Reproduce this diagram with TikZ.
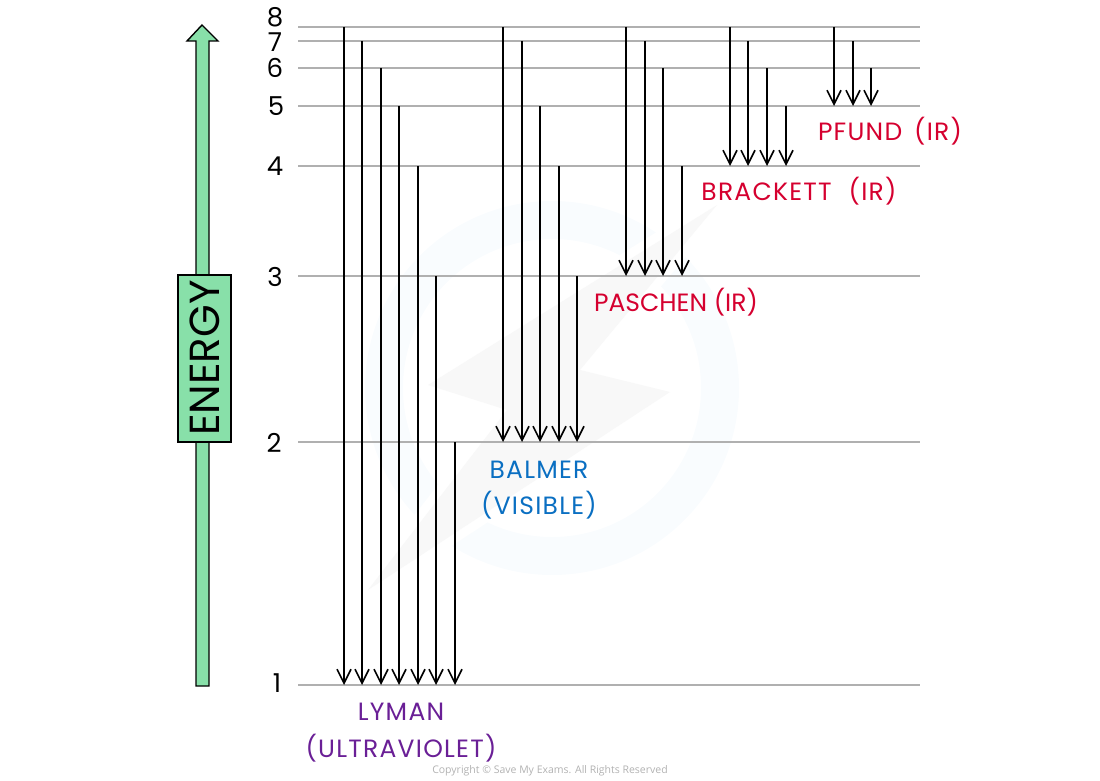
\documentclass[tikz,border=0pt]{standalone}
\usepackage{fontspec}
\setmainfont{Poppins}
\newfontfamily\copyfont{Open Sans}
\usetikzlibrary{arrows.meta}
\definecolor{mint}{HTML}{88E0A9}
\definecolor{levelgrey}{HTML}{B0B0B0}
\definecolor{lymancol}{HTML}{6A1F96}
\definecolor{balmercol}{HTML}{0A6FC2}
\definecolor{ircol}{HTML}{D5002F}
\definecolor{wmblue}{HTML}{F9FCFE}
\definecolor{wmgrey}{HTML}{F8F8F8}
\tikzset{
  x=1pt,y=-1pt,
  level/.style={draw=levelgrey,line width=1.3pt},
  trans/.style={draw=black,line width=1.4pt,-{Straight Barb[length=14pt,width=14pt,line width=1.6pt]}},
  num/.style={font=\fontsize{26}{26}\selectfont,inner sep=0pt,anchor=center},
  serieslabel/.style={font=\fontsize{25}{25}\selectfont\addfontfeatures{LetterSpace=5},inner sep=0pt,anchor=center},
  tightlabel/.style={font=\fontsize{25}{25}\selectfont,inner sep=0pt,anchor=center},
}
\begin{document}
\begin{tikzpicture}
\useasboundingbox (0,0) rectangle (1100,781);
% watermark
\draw[wmblue,line width=38pt] (552,388) circle[radius=168];
\path[fill=wmgrey,draw=white,line width=18pt,line join=miter] (428,385) -- (717,205) -- (580,370) -- (670,392) -- (368,590) -- (507,410) -- cycle;
\fill[wmgrey] (428,385) -- (717,205) -- (580,370) -- (670,392) -- (368,590) -- (507,410) -- cycle;
% levels
\foreach \n/\y in {8/27,7/41,6/68,5/106,4/166,3/276,2/442,1/685}{
  \coordinate (L\n a) at (298,\y);
  \coordinate (L\n b) at (920,\y);
  \draw[level] (L\n a) -- (L\n b);
}
\node[num] (n8) at (275,17) {8};
\node[num] (n7) at (275,42) {7};
\node[num] (n6) at (275,68) {6};
\node[num] (n5) at (276,106) {5};
\node[num] (n4) at (275,166) {4};
\node[num] (n3) at (275,277) {3};
\node[num] (n2) at (274,443) {2};
\node[num] (n1) at (277,683) {1};
% transitions
\foreach \i/\x/\t/\b in {
  a/344/27/685,b/362/41/685,c/381/68/685,d/399/106/685,e/418/166/685,f/436/276/685,g/455/442/685,
  h/503/27/442,i/522/41/442,j/540/106/442,k/559/166/442,l/577/276/442,
  m/626/27/276,n/645/41/276,o/663/68/276,p/682/166/276,
  q/730/27/166,r/748/41/166,s/767/68/166,t/786/106/166,
  u/834/27/106,v/853/41/106,w/871/68/106}{
  \coordinate (T\i) at (\x,\t);
  \coordinate (B\i) at (\x,\b);
  \draw[trans] (T\i) -- (B\i);
}
% energy arrow
\draw[fill=mint,draw=black,line width=1.4pt,line join=miter]
  (196,686) -- (196,41) -- (187,41) -- (202,25) -- (218,41) -- (209,41) -- (209,686) -- cycle;
\node[draw=black,fill=mint,line width=1.4pt,minimum width=53pt,minimum height=167pt,inner sep=0pt] (ebox) at (204.5,358.5) {};
\node[rotate=90,font=\fontsize{42}{42}\selectfont,inner sep=0pt,text=black] (etext) at (205,358) {ENERGY};
% labels
\node[serieslabel,text=lymancol] (lyman) at (401,712) {LYMAN};
\node[serieslabel,text=lymancol] (lyman2) at (401,748) {(ULTRAVIOLET)};
\node[serieslabel,text=balmercol] (balmer) at (539,470) {BALMER};
\node[serieslabel,text=balmercol] (balmer2) at (539,505) {(VISIBLE)};
\node[tightlabel,text=ircol] (paschen) at (676,302) {PASCHEN (IR)};
\node[serieslabel,text=ircol] (brackett) at (799,191) {BRACKETT\hspace{17pt}(IR)};
\node[serieslabel,text=ircol] (pfund) at (890,131) {PFUND\hspace{12pt}(IR)};
\node[font=\copyfont\fontsize{10.5}{10.5}\selectfont,text=black!30,inner sep=0pt] (copy) at (550,771) {Copyright © Save My Exams. All Rights Reserved};
\end{tikzpicture}
\end{document}
